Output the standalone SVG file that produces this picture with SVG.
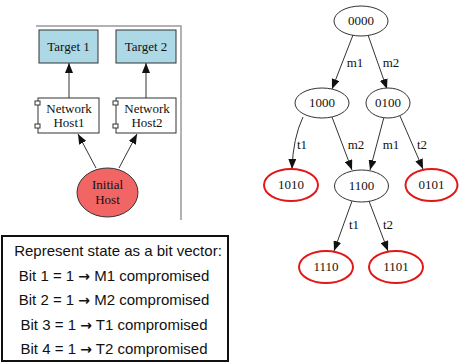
<svg xmlns="http://www.w3.org/2000/svg" width="464" height="364" viewBox="0 0 464 364">
<defs>
<style>
.g{font-family:"Liberation Serif","Times New Roman",serif;font-size:13px;fill:#111;text-anchor:middle}
.e{stroke:#333;stroke-width:1;fill:none}
.n{fill:#fff;stroke:#333;stroke-width:1}
.r{fill:#fff;stroke:#e01818;stroke-width:2}
.t{fill:#add8e6;stroke:#333;stroke-width:1}
.b{font-family:"Liberation Sans",Arial,sans-serif;font-size:15px;fill:#111;text-anchor:middle}
.ar{font-family:"DejaVu Sans",sans-serif;font-weight:bold;font-size:14px}
</style>
<marker id="a" markerUnits="userSpaceOnUse" markerWidth="10" markerHeight="8" refX="10" refY="4" orient="auto">
<path d="M0,0 L10,4 L0,8 z" fill="#111"/>
</marker>
</defs>
<rect width="464" height="364" fill="#fff"/>
<!-- left panel frame -->
<path d="M36,26 H181 V220" fill="none" stroke="#999" stroke-width="1.5"/>
<g id="connectors-left">
<path class="e" d="M69,98 V63" marker-end="url(#a)"/>
<path class="e" d="M146,98 V63" marker-end="url(#a)"/>
<path class="e" d="M96,168 L78,134" marker-end="url(#a)"/>
<path class="e" d="M119,168 L137,134" marker-end="url(#a)"/>
</g>
<g id="target1"><rect class="t" x="39" y="30" width="59" height="33"/><text class="g" x="68.5" y="51">Target 1</text></g>
<g id="target2"><rect class="t" x="116" y="30" width="60" height="33"/><text class="g" x="146" y="51">Target 2</text></g>
<g id="host1"><rect class="n" x="38" y="98" width="61" height="35"/><rect class="n" x="35" y="101" width="5" height="4"/><rect class="n" x="35" y="124" width="5" height="4"/><text class="g" x="69" y="113">Network</text><text class="g" x="69" y="127">Host1</text></g>
<g id="host2"><rect class="n" x="116" y="98" width="60" height="35"/><rect class="n" x="113" y="101" width="5" height="4"/><rect class="n" x="113" y="124" width="5" height="4"/><text class="g" x="147" y="113">Network</text><text class="g" x="147" y="127">Host2</text></g>
<g id="initial"><ellipse cx="107.5" cy="192.5" rx="30.5" ry="24.5" fill="#f26565" stroke="#333"/><text class="g" x="107.5" y="189">Initial</text><text class="g" x="107.5" y="204">Host</text></g>
<!-- tree -->
<g id="connectors-tree">
<path class="e" d="M353,35 L332,89" marker-end="url(#a)"/>
<path class="e" d="M368,35 L387,89" marker-end="url(#a)"/>
<path class="e" d="M303,117 Q293,138 292,169" marker-end="url(#a)"/>
<path class="e" d="M332,117 L352,170" marker-end="url(#a)"/>
<path class="e" d="M384,117 L370,170" marker-end="url(#a)"/>
<path class="e" d="M400,116 L423,169" marker-end="url(#a)"/>
<path class="e" d="M352,201 L334,251" marker-end="url(#a)"/>
<path class="e" d="M369,201 L388,251" marker-end="url(#a)"/>
<text class="g" x="355" y="67">m1</text>
<text class="g" x="391" y="67">m2</text>
<text class="g" x="302" y="149">t1</text>
<text class="g" x="356" y="149">m2</text>
<text class="g" x="391" y="149">m1</text>
<text class="g" x="422" y="149">t2</text>
<text class="g" x="354" y="229">t1</text>
<text class="g" x="388" y="229">t2</text>
</g>
<g id="s0000"><ellipse class="n" cx="361" cy="21" rx="27" ry="15"/><text class="g" x="361" y="25">0000</text></g>
<g id="s1000"><ellipse class="n" cx="322" cy="103" rx="27" ry="15"/><text class="g" x="322" y="107">1000</text></g>
<g id="s0100"><ellipse class="n" cx="388" cy="103" rx="22" ry="15"/><text class="g" x="388" y="107">0100</text></g>
<g id="s1010"><ellipse class="r" cx="291" cy="185" rx="27" ry="16"/><text class="g" x="291" y="189">1010</text></g>
<g id="s1100"><ellipse class="n" cx="361.5" cy="186" rx="27" ry="16"/><text class="g" x="361.5" y="190">1100</text></g>
<g id="s0101"><ellipse class="r" cx="431.5" cy="185" rx="26" ry="16"/><text class="g" x="431.5" y="189">0101</text></g>
<g id="s1110"><ellipse class="r" cx="326" cy="267" rx="27" ry="16"/><text class="g" x="326" y="271">1110</text></g>
<g id="s1101"><ellipse class="r" cx="396" cy="267" rx="27" ry="16"/><text class="g" x="396" y="271">1101</text></g>
<!-- legend box -->
<g id="legend">
<rect x="2" y="236" width="226" height="125" fill="#fff" stroke="#111" stroke-width="2"/>
<text class="b" x="118" y="256">Represent state as a bit vector:</text>
<text class="b" x="114" y="281">Bit 1 = 1 <tspan class="ar">→</tspan> M1 compromised</text>
<text class="b" x="114" y="305">Bit 2 = 1 <tspan class="ar">→</tspan> M2 compromised</text>
<text class="b" x="114" y="330">Bit 3 = 1 <tspan class="ar">→</tspan> T1 compromised</text>
<text class="b" x="114" y="354">Bit 4 = 1 <tspan class="ar">→</tspan> T2 compromised</text>
</g>
</svg>
